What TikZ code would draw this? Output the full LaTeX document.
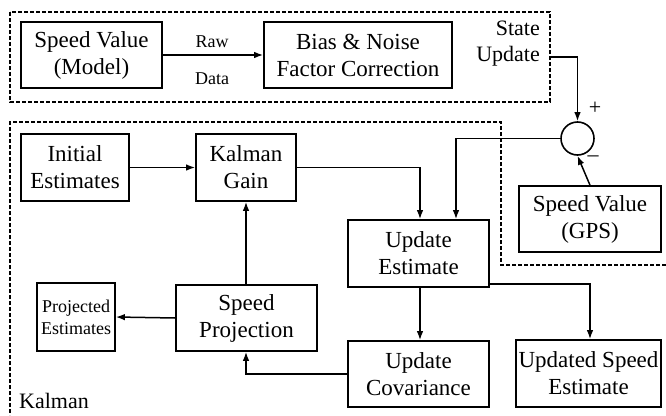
\documentclass[tikz,border=0pt]{standalone}
\usepackage{fontspec}
\setmainfont{Liberation Serif}
\usetikzlibrary{arrows.meta,calc}
\begin{document}
\begin{tikzpicture}[x=1pt,y=-1pt,
  box/.style={draw,line width=1.6pt,rectangle,inner sep=0pt,align=center,
    font=\fontsize{23}{27}\selectfont},
  conn/.style={line width=1.5pt,-{Latex[length=9pt,width=6.5pt]}},
  dbox/.style={line width=1.3pt,dash pattern=on 4pt off 2pt},
  lbl/.style={inner sep=0pt,font=\fontsize{22}{26}\selectfont},
  small/.style={inner sep=0pt,font=\fontsize{18}{22}\selectfont}]
\useasboundingbox (0,0) rectangle (666,415);
% dashed regions
\draw[dbox] (10,12) rectangle (550,102);
\draw[dbox] (666,265) -- (501,265) -- (501,122) -- (10,122) -- (10,415);
% nodes
\node[box,minimum width=141pt,minimum height=66pt] (model) at (91.5,55) {Speed Value\\(Model)};
\node[box,minimum width=188pt,minimum height=66pt] (bias) at (358,55) {Bias \& Noise\\Factor Correction};
\node[box,minimum width=108pt,minimum height=67pt] (init) at (75,167.5) {Initial\\Estimates};
\node[box,minimum width=100pt,minimum height=67pt] (gain) at (246,167.5) {Kalman\\Gain};
\node[box,minimum width=141pt,minimum height=67pt] (upest) at (418.5,253.5) {Update\\Estimate};
\node[box,minimum width=142pt,minimum height=66pt] (gps) at (590,219) {Speed Value\\(GPS)};
\node[box,minimum width=141pt,minimum height=66pt] (proj) at (246.5,318) {Speed\\Projection};
\node[box,minimum width=78pt,minimum height=68pt,font=\fontsize{18}{22}\selectfont] (projest) at (76,317) {Projected\\Estimates};
\node[box,minimum width=141pt,minimum height=66pt] (upcov) at (418.5,374) {Update\\Covariance};
\node[box,minimum width=145pt,minimum height=67pt] (upspeed) at (588.5,373.5) {Updated Speed\\Estimate};
\node[draw,circle,line width=1.6pt,minimum size=33pt,inner sep=0pt] (sum) at (577.5,138.5) {};
% labels
\node[small] (raw) at (212,42) {Raw};
\node[small] (data) at (212,79) {Data};
\node[lbl,anchor=east,align=right] (state) at (540,44) {State\\Update};
\node[lbl] (plus) at (595,108) {+};
\node[lbl] (minus) at (593,159) {\textendash};
\node[lbl,anchor=base west] (kalman) at (19,408) {Kalman};
\coordinate (su) at (550,57);
% connectors
\draw[conn] (model.east) -- (bias.west);
\draw[conn] (su) -| (sum.north);
\draw[conn] (gps.north) -- (sum.south);
\draw[conn] (sum.west) -| ($(upest.north)+(37.5,0)$);
\draw[conn] (init.east) -- (gain.west);
\draw[conn] (gain.east) -| ($(upest.north)+(1.5,0)$);
\draw[conn] ($(upest.south)+(1.5,0)$) -- ($(upcov.north)+(1.5,0)$);
\draw[conn] ($(upest.south east)+(0,-4)$) -| ($(upspeed.north)+(1.5,0)$);
\draw[conn] (proj.north -| gain.south) -- (gain.south);
\draw[conn] (proj.west) -- (projest.east);
\draw[conn] (upcov.west) -| (proj.south -| gain.south);
\end{tikzpicture}
\end{document}
